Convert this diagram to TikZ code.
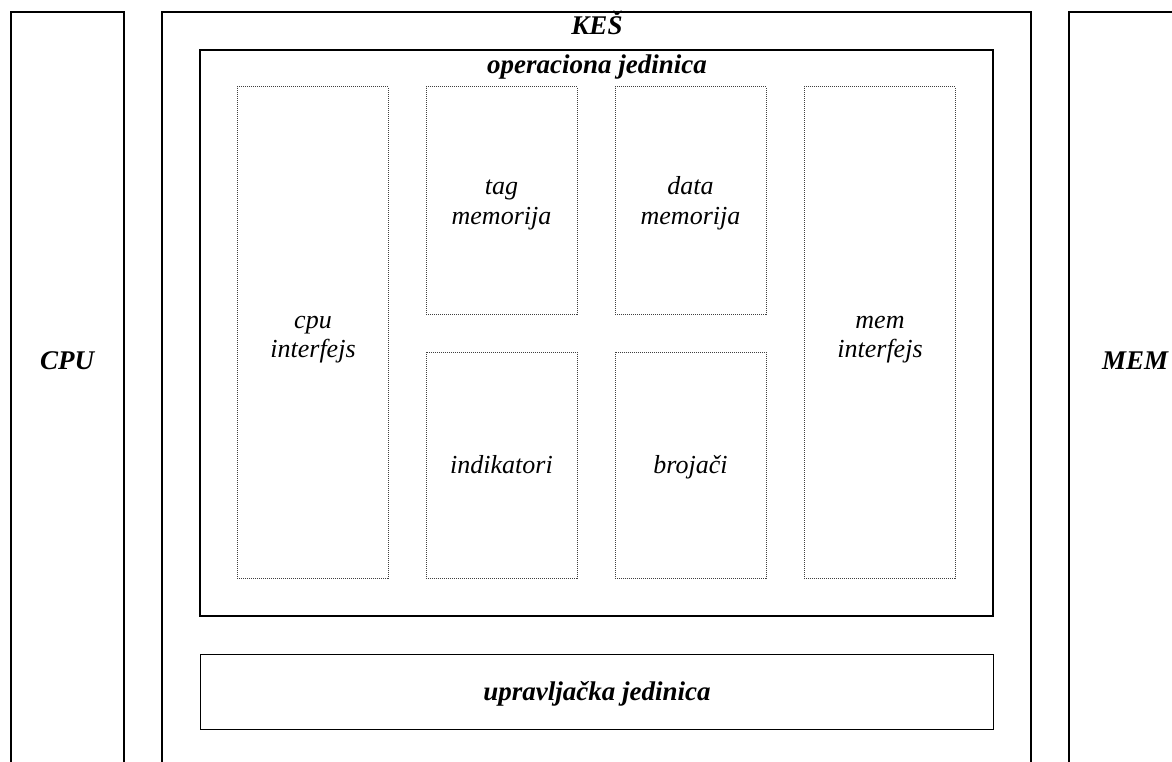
\documentclass[tikz,border=0pt]{standalone}
\usepackage{fontspec}
\setmainfont{Liberation Serif}
\begin{document}
\begin{tikzpicture}[x=1pt,y=-1pt,
  outerbox/.style={draw, line width=2pt, rectangle, inner sep=0pt},
  opbox/.style={draw, line width=2pt, rectangle, inner sep=0pt},
  upbox/.style={draw, line width=1pt, rectangle, inner sep=0pt},
  dotbox/.style={draw=black!75, line width=1pt, dash pattern=on 1pt off 1pt,
    rectangle, inner sep=0pt},
  txt/.style={inner sep=0pt, anchor=base, font=\fontsize{26}{29}\selectfont\itshape},
  biglabel/.style={inner sep=0pt, anchor=base, font=\fontsize{27}{30}\selectfont\bfseries\itshape}]
\useasboundingbox (0,0) rectangle (1172,762);
\clip (0,0) rectangle (1172,762);
% outer boxes (open at bottom)
\node[outerbox, minimum width=113pt, minimum height=800pt] (cpu) at (67.5,412) {};
\node[outerbox, minimum width=869pt, minimum height=800pt] (kes) at (596.5,412) {};
\node[outerbox, minimum width=181pt, minimum height=800pt] (mem) at (1159.5,412) {};
\node[biglabel] (cpulbl) at (67,369) {CPU};
\node[biglabel] (memlbl) at (1135,369) {MEM};
\node[biglabel] (keslbl) at (597,35) {KEŠ};
% operaciona jedinica
\node[opbox, minimum width=793pt, minimum height=566pt] (op) at (596.5,333) {};
\node[biglabel] (oplbl) at (597,74) {operaciona jedinica};
% upravljacka jedinica
\node[upbox, minimum width=793pt, minimum height=75pt] (up) at (596.5,691.5) {};
\node[biglabel] (uplbl) at (597,700) {upravljačka jedinica};
% inner dotted boxes
\node[dotbox, minimum width=151pt, minimum height=491pt] (cpuif) at (312.5,332.5) {};
\node[dotbox, minimum width=151pt, minimum height=227pt] (tag) at (501.5,200.5) {};
\node[dotbox, minimum width=151pt, minimum height=227pt] (data) at (690.5,200.5) {};
\node[dotbox, minimum width=151pt, minimum height=226pt] (ind) at (501.5,465) {};
\node[dotbox, minimum width=151pt, minimum height=226pt] (broj) at (690.5,465) {};
\node[dotbox, minimum width=151pt, minimum height=491pt] (memif) at (879.5,332.5) {};
% labels
\node[txt] (cpuif1) at (313,328) {cpu};
\node[txt] (cpuif2) at (313,357) {interfejs};
\node[txt] (tag1) at (501.5,195) {tag};
\node[txt] (tag2) at (501.5,224) {memorija};
\node[txt] (data1) at (690.5,195) {data};
\node[txt] (data2) at (690.5,224) {memorija};
\node[txt] (ind1) at (501.5,473) {indikatori};
\node[txt] (broj1) at (690.5,473) {brojači};
\node[txt] (memif1) at (880,328) {mem};
\node[txt] (memif2) at (880,357) {interfejs};
\end{tikzpicture}
\end{document}
